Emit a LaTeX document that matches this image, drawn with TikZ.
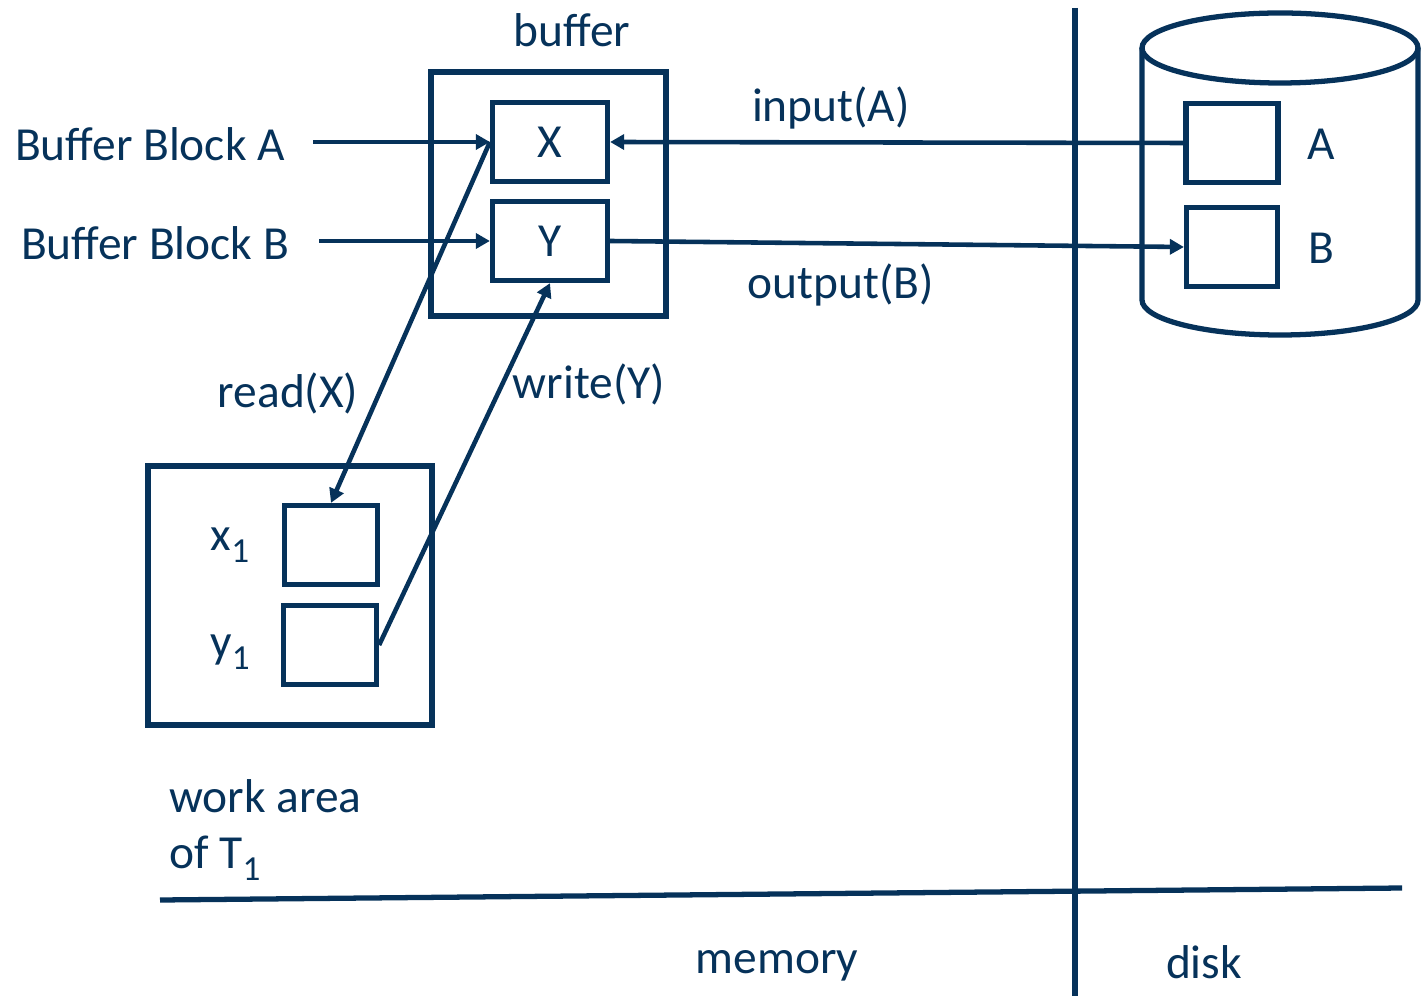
\documentclass[tikz,border=0pt]{standalone}
\usepackage{fontspec}
\setmainfont{Carlito}
\usepackage{xcolor}
\usetikzlibrary{arrows.meta, positioning}
\definecolor{navy}{HTML}{06325A}

\tikzset{
	blk/.style = {draw=navy, line width=1.5pt, minimum width=1.15cm, minimum height=0.79cm, inner sep=0pt, text=navy},
	lbl/.style = {text=navy, inner sep=1pt, font=\fontsize{13.5}{16}\selectfont},
	conn/.style = {draw=navy, line width=1.3pt, -{Triangle[length=1.4mm, width=1.5mm]}},
	frame/.style = {draw=navy, line width=1.5pt}
}
\newcommand{\lowsub}[1]{\raisebox{-0.55ex}{\fontsize{10}{12}\selectfont #1}}

\begin{document}
\begin{tikzpicture}[x=0.1mm, y=-0.1mm]
			\useasboundingbox (0,0) rectangle (1423,996);

			% buffer
			\draw [frame] (431,72) rectangle (666,316);
			\node [lbl] (buf) at (572,30) {buffer};
			\node [blk, lbl, line width=1.5pt] (X) at (550,142) {X};
			\node [blk, lbl, line width=1.5pt] (Y) at (550,241) {Y};
			\node [lbl] (bba) at (150,144) {Buffer Block A};
			\node [lbl] (bbb) at (155,243) {Buffer Block B};

			% work area
			\draw [frame] (148,466) rectangle (432,725);
			\node [blk, minimum width=0.93cm] (x1) at (331,545) {};
			\node [blk, minimum width=0.93cm] (y1) at (330,645) {};
			\node [lbl] (x1l) at (230,545) {x\lowsub{1}};
			\node [lbl] (y1l) at (230,652) {y\lowsub{1}};
			\node [lbl, align=left, anchor=north west] (wa) at (165,775) {work area\\of T\lowsub{1}};

			% disk
			\draw [frame] (1280,48) ellipse [x radius=1.38cm, y radius=0.35cm];
			\draw [frame] (1142,48) -- (1142,300) arc [start angle=180, end angle=360, x radius=1.38cm, y radius=0.35cm] -- (1418,48);
			\node [blk, minimum width=0.92cm] (A) at (1232,143) {};
			\node [blk, minimum width=0.91cm] (B) at (1232,247) {};
			\node [lbl] (Al) at (1321,144) {A};
			\node [lbl] (Bl) at (1321,248) {B};

			% divisions
			\coordinate (vt) at (1075,8);
			\coordinate (vb) at (1075,996);
			\coordinate (hl) at (160,900);
			\coordinate (hr) at (1402,888);
			\draw [frame] (vt) -- (vb);
			\draw [frame] (hl) -- (hr);
			\node [lbl] (mem) at (777,966) {memory};
			\node [lbl] (dsk) at (1204,962) {disk};

			% transfers
			\draw [conn] (bba.east) ++(24,-2) coordinate (ta) -- (X.west);
			\draw [conn] (bbb.east) ++(26,-2) coordinate (tb) -- (Y.west);
			\draw [conn] (A.west) -- (X.east);
			\draw [conn] (Y.east) -- (B.west);
			\draw [conn] (X.west) -- (x1.north);
			\draw [conn] (y1.east) -- (Y.south);
			\node [lbl] (inp) at (831,108) {input(A)};
			\node [lbl] (out) at (841,285) {output(B)};
			\node [lbl] (rd) at (288,393) {read(X)};
			\node [lbl] (wr) at (589,384) {write(Y)};
		\end{tikzpicture}
\end{document}
